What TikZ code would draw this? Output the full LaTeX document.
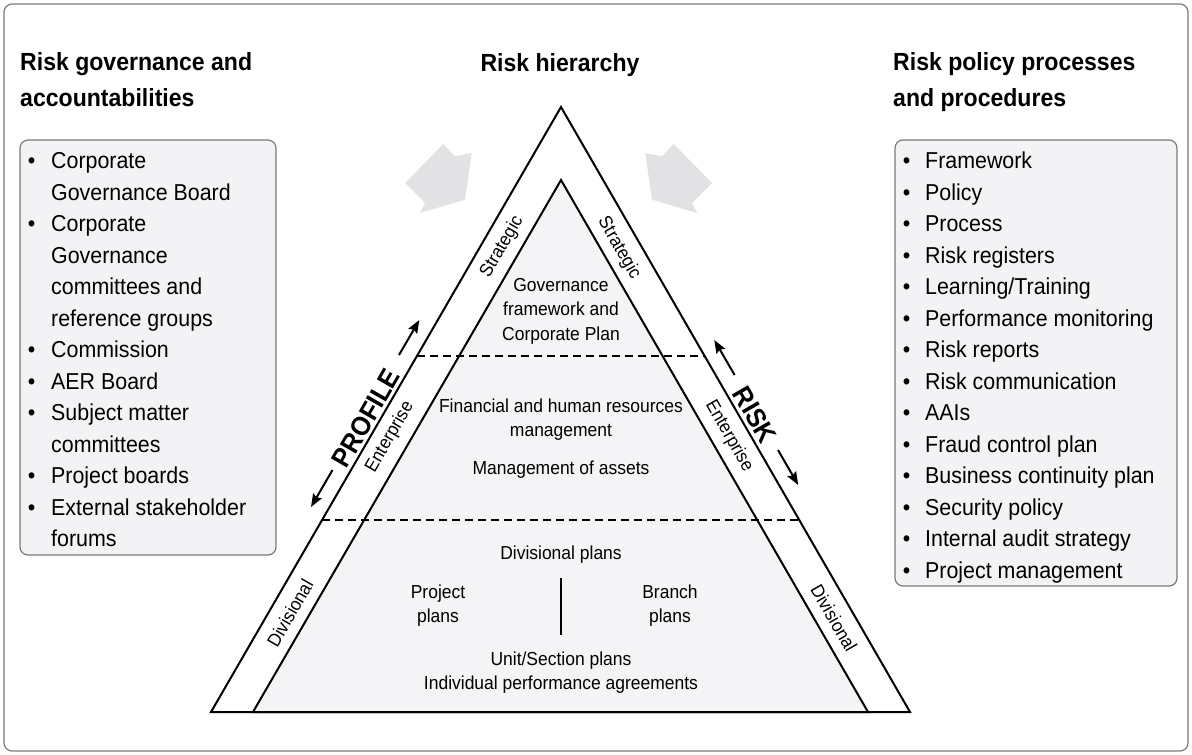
\documentclass[tikz,border=0pt]{standalone}
\usepackage{fontspec}
\setmainfont{Liberation Sans}[FakeStretch=0.93]
\usetikzlibrary{arrows.meta}
\definecolor{framegray}{HTML}{7A7A7A}
\definecolor{boxfill}{HTML}{F3F3F5}
\definecolor{trifill}{HTML}{F4F4F6}
\definecolor{arrowgray}{HTML}{E2E2E4}
\begin{document}
\begin{tikzpicture}[x=1pt,y=-1pt,
  heading/.style={font=\bfseries\fontsize{24.8}{30}\selectfont, inner sep=0},
  listitem/.style={font=\fontsize{23}{31.5}\selectfont, anchor=base west, inner sep=0},
  bulletn/.style={font=\fontsize{23}{31.5}\selectfont, anchor=base, inner sep=0},
  intext/.style={font=\fontsize{18.8}{24.5}\selectfont, align=center, inner sep=0},
  bandtext/.style={font=\fontsize{18.5}{20}\selectfont, inner sep=0},
  bigl/.style={font=\bfseries\fontsize{27}{30}\selectfont, inner sep=0},
  listbox/.style={draw=framegray, fill=boxfill, line width=1.2pt, rounded corners=8pt},
  tri/.style={draw=black, line width=2pt, line join=miter},
  divider/.style={line width=2pt, dash pattern=on 8pt off 5pt},
  dirarrow/.style={line width=2pt, -{Stealth[length=13pt,width=10pt,inset=2pt]}},
  feed/.style={fill=arrowgray, draw=none},
]
\useasboundingbox (0,0) rectangle (1192,755);
% outer frame
\draw[framegray, line width=1.2pt, rounded corners=8pt] (4,4) rectangle (1188,751);

% headings
\node[heading, anchor=base west] (hl1) at (20,70) {Risk governance and};
\node[heading, anchor=base west] (hl2) at (20,106) {accountabilities};
\node[heading, anchor=base] (hm) at (560,71) {Risk hierarchy};
\node[heading, anchor=base west] (hr1) at (893,70) {Risk policy processes};
\node[heading, anchor=base west] (hr2) at (893,106) {and procedures};

% list boxes
\draw[listbox] (20,140) rectangle (276,555);
\draw[listbox] (895,140) rectangle (1177,586);

\foreach \i/\b/\t in {1/1/Corporate, 2/0/Governance Board, 3/1/Corporate, 4/0/Governance,
  5/0/committees and, 6/0/reference groups, 7/1/Commission, 8/1/AER Board,
  9/1/Subject matter, 10/0/committees, 11/1/Project boards, 12/1/External stakeholder, 13/0/forums}{
  \node[listitem] (l\i) at (51,{168.6+31.5*(\i-1)}) {\t};
  \ifnum\b=1 \node[bulletn] (lb\i) at (31.7,{168.6+31.5*(\i-1)}) {\textbullet};\fi
}
\foreach \i/\t in {1/Framework, 2/Policy, 3/Process, 4/Risk registers, 5/Learning\slash Training,
  6/Performance monitoring, 7/Risk reports, 8/Risk communication, 9/AAIs, 10/Fraud control plan,
  11/Business continuity plan, 12/Security policy, 13/Internal audit strategy, 14/Project management}{
  \node[listitem] (r\i) at (925,{168.6+31.5*(\i-1)}) {\t};
  \node[bulletn] (rb\i) at (906.7,{168.6+31.5*(\i-1)}) {\textbullet};
}

% feed arrows
\fill[feed] (443.3,144) -- (455,156.3) -- (471.7,153) -- (465,199.7) -- (420,213) -- (425,203) -- (405,183) -- cycle;
\fill[feed] (673.7,144) -- (662,156.3) -- (645.3,153) -- (652,199.7) -- (697,213) -- (692,203) -- (712,183) -- cycle;

% triangle
\coordinate (oA) at (561,107);
\coordinate (oL) at (211,712);
\coordinate (oR) at (910,712);
\coordinate (iA) at (561,180);
\coordinate (iL) at (253,712);
\coordinate (iR) at (868,712);
\fill[white] (oA) -- (oL) -- (oR) -- cycle;
\fill[trifill] (iA) -- (iL) -- (iR) -- cycle;
\coordinate (d1l) at (417,356);
\coordinate (d1r) at (705,356);
\coordinate (d2l) at (322,520);
\coordinate (d2r) at (800,520);
\draw[divider] (d1l) -- (d1r);
\draw[divider] (d2l) -- (d2r);
\draw[tri] (oA) -- (oL) -- (oR) -- cycle;
\draw[tri] (iA) -- (iL) -- (iR) -- cycle;

% band labels
\node[bandtext, rotate=60] (sL) at (502,247) {Strategic};
\node[bandtext, rotate=-60] (sR) at (619,248) {Strategic};
\node[bandtext, rotate=60] (eL) at (390,437) {Enterprise};
\node[bandtext, rotate=-60] (eR) at (729,436) {Enterprise};
\node[bandtext, rotate=60] (vL) at (290,613) {Divisional};
\node[bandtext, rotate=-60] (vR) at (834,618) {Divisional};

% PROFILE / RISK
\node[bigl, rotate=60] (prof) at (366,418) {PROFILE};
\node[bigl, rotate=-60] (risk) at (755,415) {RISK};
\coordinate (pa1) at (399,355);
\coordinate (pa2) at (419.3,320);
\coordinate (pb1) at (332.5,470);
\coordinate (pb2) at (311,507);
\coordinate (ra1) at (734.6,375);
\coordinate (ra2) at (714.3,340);
\coordinate (rb1) at (778,450);
\coordinate (rb2) at (798.2,485);
\draw[dirarrow] (pa1) -- (pa2);
\draw[dirarrow] (pb1) -- (pb2);
\draw[dirarrow] (ra1) -- (ra2);
\draw[dirarrow] (rb1) -- (rb2);

% inner texts
\node[intext] (gov) at (561,311) {Governance\\framework and\\Corporate Plan};
\node[intext] (fin) at (561,419.5) {Financial and human resources\\management};
\node[intext] (assets) at (561,470) {Management of assets};
\node[intext] (divp) at (561,555) {Divisional plans};
\node[intext] (proj) at (438,605.5) {Project\\plans};
\node[intext] (branch) at (670,605.5) {Branch\\plans};
\node[intext] (unit) at (561,672.5) {Unit/Section plans\\Individual performance agreements};
\coordinate (bart) at (561,578);
\coordinate (barb) at (561,635);
\draw[line width=2pt] (bart) -- (barb);
\end{tikzpicture}
\end{document}
